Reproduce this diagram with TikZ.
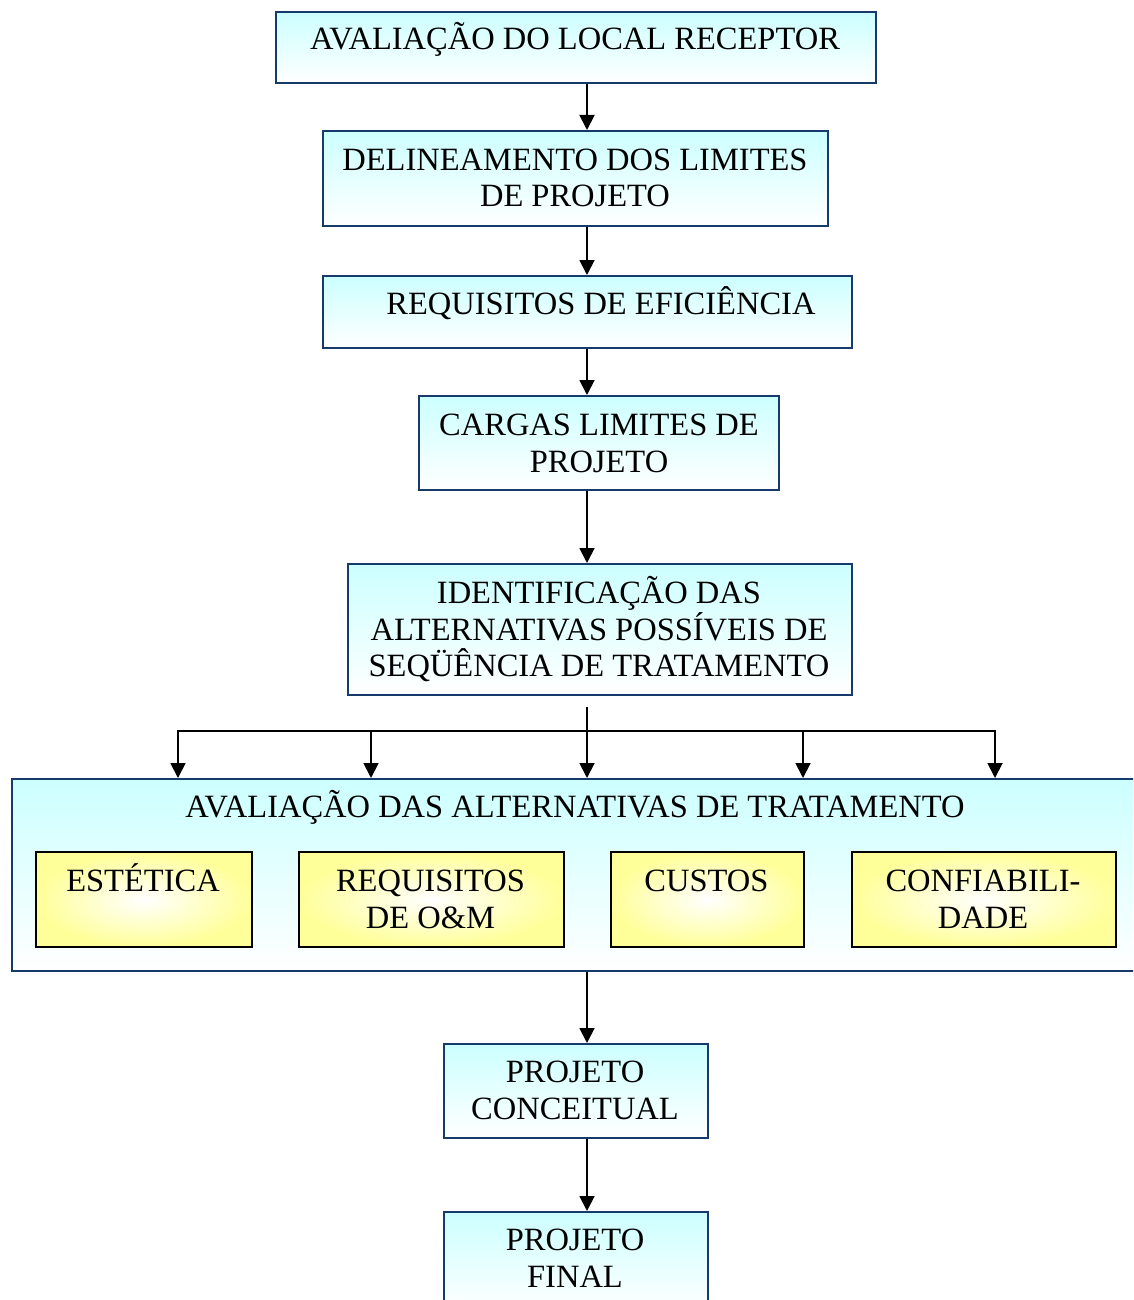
\documentclass[tikz,border=0pt]{standalone}
\usepackage{fontspec}
\setmainfont{Liberation Serif}
\usetikzlibrary{arrows.meta}
\definecolor{cyanL}{RGB}{204,255,255}
\definecolor{yellowL}{RGB}{255,255,153}
\definecolor{boxblue}{RGB}{22,58,105}
\newcommand\mlines[1]{\vtop{\baselineskip=36.5pt\lineskiplimit=-\maxdimen\lineskip=0pt\halign{\hfil##\hfil\cr#1\crcr}}}
\begin{document}
\begin{tikzpicture}[x=1pt,y=-1pt,
  bbox/.style={draw=boxblue, line width=2pt, top color=cyanL, bottom color=white,
    inner sep=0pt, anchor=north west},
  ybox/.style={draw=black, line width=2pt, shading=radial, inner color=white,
    outer color=yellowL, inner sep=0pt, anchor=north west},
  txt/.style={font=\fontsize{32.5}{36.5}\selectfont, inner sep=0pt, anchor=base},
  conn/.style={line width=1.8pt},
  arr/.style={line width=1.8pt, -{Triangle[width=15pt,length=15pt]}},
]
\useasboundingbox (0,0) rectangle (1133,1300);
\clip (0,0) rectangle (1133,1300);

% boxes
\node[bbox, minimum width=600pt, minimum height=71pt]  (b1) at (275,11) {};
\node[bbox, minimum width=505pt, minimum height=95pt]  (b2) at (322,130) {};
\node[bbox, minimum width=529pt, minimum height=72pt]  (b3) at (322,275) {};
\node[bbox, minimum width=360pt, minimum height=94pt]  (b4) at (418,395) {};
\node[bbox, minimum width=504pt, minimum height=131pt] (b5) at (347,563) {};
\node[bbox, minimum width=1130pt, minimum height=192pt] (big) at (11,778) {};
\node[ybox, minimum width=216pt, minimum height=95pt] (y1) at (35,851) {};
\node[ybox, minimum width=265pt, minimum height=95pt] (y2) at (298,851) {};
\node[ybox, minimum width=193pt, minimum height=95pt] (y3) at (610,851) {};
\node[ybox, minimum width=264pt, minimum height=95pt] (y4) at (851,851) {};
\node[bbox, minimum width=264pt, minimum height=94pt]  (b8) at (443,1043) {};
\node[bbox, minimum width=264pt, minimum height=100pt] (b9) at (443,1211) {};

% texts
\node[txt] (t1) at (575,50) {AVALIAÇÃO DO LOCAL RECEPTOR};
\node[txt] (t2) at (575,170.5) {\mlines{DELINEAMENTO DOS LIMITES\cr DE PROJETO}};
\node[txt] (t3) at (601,314.5) {REQUISITOS DE EFICIÊNCIA};
\node[txt] (t4) at (599,435.5) {\mlines{CARGAS LIMITES DE\cr PROJETO}};
\node[txt] (t5) at (599,603.5) {\mlines{IDENTIFICAÇÃO DAS\cr ALTERNATIVAS POSSÍVEIS DE\cr SEQÜÊNCIA DE TRATAMENTO}};
\node[txt] (t6) at (575,817.5) {AVALIAÇÃO DAS ALTERNATIVAS DE TRATAMENTO};
\node[txt] (ty1) at (143,891.5) {ESTÉTICA};
\node[txt] (ty2) at (430.5,891.5) {\mlines{REQUISITOS\cr DE O\&M}};
\node[txt] (ty3) at (706.5,891.5) {CUSTOS};
\node[txt] (ty4) at (983,891.5) {\mlines{CONFIABILI-\cr DADE}};
\node[txt] (t8) at (575,1082.5) {\mlines{PROJETO\cr CONCEITUAL}};
\node[txt] (t9) at (575,1250.5) {\mlines{PROJETO\cr FINAL}};

% connectors
\coordinate (trunk) at (587,0);
\draw[arr] (b1.south -| trunk) -- (b2.north -| trunk);
\draw[arr] (b2.south -| trunk) -- (b3.north -| trunk);
\draw[arr] (b3.south -| trunk) -- (b4.north -| trunk);
\draw[arr] (b4.south -| trunk) -- (b5.north -| trunk);

\coordinate (split) at (587,707);
\coordinate (d1) at (178,731);
\coordinate (d2) at (371,731);
\coordinate (d3) at (587,731);
\coordinate (d4) at (803,731);
\coordinate (d5) at (995,731);
\draw[conn] (split) -- (d3);
\draw[conn, line cap=rect] (d1) -- (d5);
\foreach \d in {d1,d2,d3,d4,d5}
  \draw[arr] (\d) -- (\d |- big.north);

\draw[arr] (big.south -| trunk) -- (b8.north -| trunk);
\draw[arr] (b8.south -| trunk) -- (b9.north -| trunk);
\end{tikzpicture}
\end{document}
